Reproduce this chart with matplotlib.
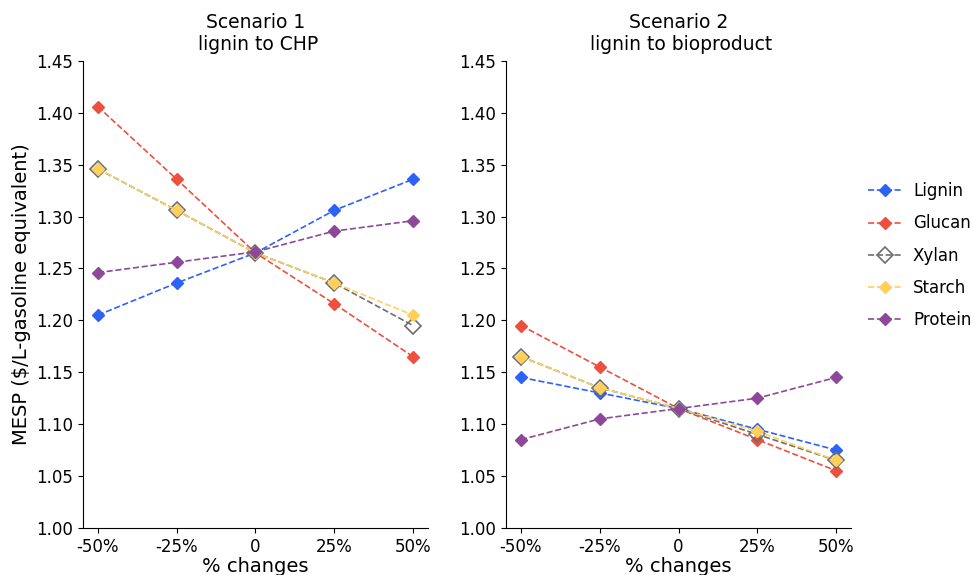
import numpy as np
import matplotlib.pyplot as plt

changes = ['-50%', '-25%', '0', '25%', '50%']

s1_lignin = [1.205, 1.236, 1.265, 1.306, 1.336]
s1_glucan = [1.406, 1.336, 1.265, 1.216, 1.165]
s1_xylan = [1.346, 1.306, 1.265, 1.236, 1.195]
s1_starch = [1.346, 1.306, 1.265, 1.236, 1.205]
s1_protein = [1.246, 1.256, 1.266, 1.286, 1.296]

s2_lignin = [1.145, 1.130, 1.115, 1.095, 1.075]
s2_glucan = [1.195, 1.155, 1.115, 1.085, 1.055]
s2_xylan = [1.165, 1.135, 1.115, 1.090, 1.065]
s2_starch = [1.165, 1.135, 1.115, 1.093, 1.065]
s2_protein = [1.085, 1.105, 1.115, 1.125, 1.145]

titles = ['Scenario 1\n lignin to CHP', 'Scenario 2\n lignin to bioproduct']
names = ['Lignin', 'Glucan', 'Xylan', 'Starch', 'Protein']
colors = ['#2e62f7', '#ee5040', '#6e6e6e', '#ffd05a', '#8e4899']

scenarios = [
    [s1_lignin, s1_glucan, s1_xylan, s1_starch, s1_protein],
    [s2_lignin, s2_glucan, s2_xylan, s2_starch, s2_protein],
]

fig = plt.figure(figsize=(9.75, 5.75), dpi=100)
ax1 = fig.add_axes([0.085, 0.082, 0.354, 0.812])
ax2 = fig.add_axes([0.519, 0.082, 0.354, 0.812])

x = np.arange(len(changes))
for ax, series, title in zip([ax1, ax2], scenarios, titles):
    for i, name in enumerate(names):
        c = colors[i]
        if name == 'Xylan':
            # hollow, slightly bigger marker; starch is drawn on top of it
            ax.plot(x, series[i], '--', color=c, marker='D', markersize=8,
                    markerfacecolor='none', markeredgecolor=c, markeredgewidth=1.2,
                    lw=1.2, label=name)
        else:
            ax.plot(x, series[i], '--', color=c, marker='D', markersize=6,
                    lw=1.2, label=name)
    ax.set_ylim(1.0, 1.45)
    ax.set_yticks(np.arange(1.0, 1.451, 0.05))
    ax.set_yticklabels(['%.2f' % v for v in np.arange(1.0, 1.451, 0.05)])
    ax.set_xlim(-0.19, 4.19)
    ax.set_xticks(x)
    ax.set_xticklabels(changes)
    ax.tick_params(labelsize=12)
    ax.set_xlabel('% changes', fontsize=14, labelpad=1)
    ax.set_title(title, fontsize=13.5, pad=8)
    ax.spines['top'].set_visible(False)
    ax.spines['right'].set_visible(False)

ax1.set_ylabel('MESP ($/L-gasoline equivalent)', fontsize=14)

ax2.legend(loc='center left', bbox_to_anchor=(1.005, 0.583), frameon=False,
           fontsize=12, labelspacing=0.85, handletextpad=0.7)

fig.savefig('out.png', dpi=100)
